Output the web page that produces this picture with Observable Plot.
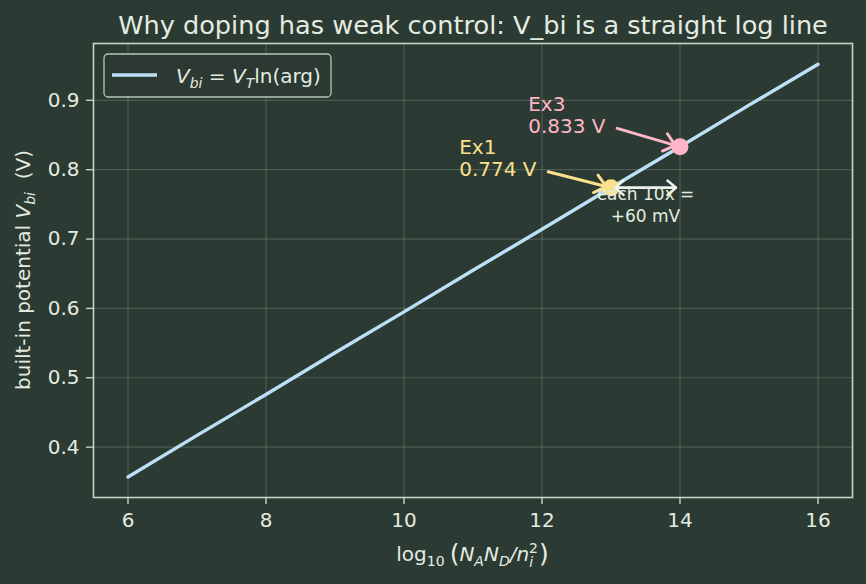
<!DOCTYPE html>
<html>
<head>
<meta charset="utf-8">
<script src="https://cdn.jsdelivr.net/npm/d3@7"></script>
<script src="https://cdn.jsdelivr.net/npm/@observablehq/plot@0.6"></script>
<style>
  html, body { margin: 0; padding: 0; background: #2b3a33; }
  #chart svg { display: block; }
</style>
</head>
<body>
<div id="chart"></div>
<script>
// V_bi = V_T ln(N_A N_D / n_i^2) against log10 of the argument
const logArg = [6, 7, 8, 9, 10, 11, 12, 13, 14, 15, 16];
const vbi = [0.357, 0.417, 0.476, 0.536, 0.595, 0.655, 0.714, 0.774, 0.833, 0.893, 0.952];

// worked examples
const exNames = ["Ex1", "Ex3"];
const exLog = [13, 14];
const exV = [0.774, 0.833];

// where each example label sits and where its arrow starts (data units)
const exLabelX = [10.8, 11.8];
const exLabelY = [0.8176, 0.8783];
const exTailX = [12.09, 13.09];
const exTailY = [0.797, 0.8595];

// "each decade" note
const stepFrom = 13, stepTo = 14, stepV = 0.774;
const noteText = ["each 10x =\n+60 mV"];
const noteX = [13.5], noteY = [0.75];

const xTicks = [6, 8, 10, 12, 14, 16];
const yTicks = [0.4, 0.5, 0.6, 0.7, 0.8, 0.9];

const titleText = "Why doping has weak control: V_bi is a straight log line";

// styling
const BG = "#2b3a33";
const INK = "#e4ece1";
const SPINE = "#c6d5c6";
const LINE = "#bddff7";
const exColors = ["#fbe18c", "#ffb7c8"];
const FONT = "DejaVu Sans, sans-serif";

const curve = logArg.map((x, i) => ({x, v: vbi[i]}));
const examples = exNames.map((name, i) => ({
  name, x: exLog[i], v: exV[i], color: exColors[i],
  lx: exLabelX[i], ly: exLabelY[i], tx: exTailX[i], ty: exTailY[i],
  label: `${name}\n${exV[i].toFixed(3)} V`
}));

const M = {left: 93, right: 14, top: 43, bottom: 87};

const plot = Plot.plot({
  width: 866,
  height: 584,
  marginLeft: M.left, marginRight: M.right, marginTop: M.top, marginBottom: M.bottom,
  style: {background: BG, color: INK, fontFamily: FONT, fontSize: "20px", overflow: "visible"},
  x: {domain: [5.5, 16.5]},
  y: {domain: [0.3274, 0.9819]},
  color: {type: "identity"},
  marks: [
    Plot.ruleX(xTicks, {stroke: SPINE, strokeOpacity: 0.22, strokeWidth: 1.2}),
    Plot.ruleY(yTicks, {stroke: SPINE, strokeOpacity: 0.22, strokeWidth: 1.2}),
    Plot.axisX(xTicks, {tickSize: 7, tickPadding: 8, stroke: SPINE, fill: INK, fontSize: 20, label: null, strokeWidth: 1.4}),
    Plot.axisY(yTicks, {tickSize: 7, tickPadding: 7, stroke: SPINE, fill: INK, fontSize: 20, label: null, strokeWidth: 1.4, tickFormat: d => d.toFixed(1)}),
    Plot.line(curve, {x: "x", y: "v", stroke: LINE, strokeWidth: 3.4}),
    Plot.arrow(examples, {x1: "tx", y1: "ty", x2: "x", y2: "v", stroke: "color", strokeWidth: 3, headLength: 7, headAngle: 80, insetEnd: 5}),
    Plot.dot(examples, {x: "x", y: "v", fill: "color", r: 8.5}),
    Plot.arrow([{a: stepFrom, b: stepTo}], {x1: "a", x2: "b", y1: () => stepV, y2: () => stepV, stroke: "#eef3ec", strokeWidth: 2.4, headLength: 7, headAngle: 80, insetStart: 4, insetEnd: 4}),
    Plot.arrow([{a: stepTo, b: stepFrom}], {x1: "a", x2: "b", y1: () => stepV, y2: () => stepV, stroke: "#eef3ec", strokeWidth: 2.4, headLength: 7, headAngle: 80, insetStart: 4, insetEnd: 4}),
    Plot.text(examples, {x: "lx", y: "ly", text: "label", fill: "color", textAnchor: "start", lineAnchor: "middle", lineHeight: 1.1, fontSize: 20}),
    Plot.text(noteText, {x: noteX, y: noteY, text: d => d, fill: INK, textAnchor: "middle", lineAnchor: "middle", lineHeight: 1.3, fontSize: 17}),
    Plot.frame({stroke: SPINE, strokeWidth: 1.6}),
    Plot.text([titleText], {frameAnchor: "top", text: d => d, lineAnchor: "bottom", dy: -10, fontSize: 25.6, fill: INK})
  ]
});

document.getElementById("chart").appendChild(plot);

// rich-text labels (sub/superscripts, italics) drawn as SVG tspans
const svg = d3.select(plot);
function rich(g, parts, attrs) {
  const t = g.append("text").attr("font-family", FONT).attr("fill", INK).attr("text-anchor", "start");
  for (const [k, v] of Object.entries(attrs)) t.attr(k, v);
  let base = 0;
  for (const p of parts) {
    const s = t.append("tspan").text(p.t);
    if (p.it) s.attr("font-style", "italic");
    if (p.size) s.attr("font-size", p.size);
    const shift = p.shift || 0;
    if (shift !== base) { s.attr("dy", shift - base); base = shift; }
    if (p.dx) s.attr("dx", p.dx);
  }
  return t;
}

const frameCx = M.left + (866 - M.left - M.right) / 2;
const frameCy = M.top + (584 - M.top - M.bottom) / 2;

// x-axis label: log10(N_A N_D / n_i^2)
rich(svg.append("g"), [
  {t: "log"},
  {t: "10", size: 14, shift: 5},
  {t: "(", size: 25, shift: 1, dx: 5},
  {t: "N", it: true, shift: 0},
  {t: "A", it: true, size: 14, shift: 5},
  {t: "N", it: true, shift: 0},
  {t: "D", it: true, size: 14, shift: 5},
  {t: "/", it: true, shift: 0},
  {t: "n", it: true},
  {t: "i", it: true, size: 14, shift: 6},
  {t: "2", size: 14, shift: -8, dx: -4},
  {t: ")", size: 25, shift: 1, dx: 1}
], {x: frameCx, y: 561, "text-anchor": "middle", "font-size": 20});

// y-axis label
rich(svg.append("g"), [
  {t: "built-in potential "},
  {t: "V", it: true},
  {t: "bi", it: true, size: 14, shift: 5},
  {t: "  (V)", shift: 0}
], {transform: `translate(30,${frameCy}) rotate(-90)`, "text-anchor": "middle", "font-size": 20});

// legend
const lg = svg.append("g").attr("transform", `translate(${M.left + 11},${M.top + 11})`);
lg.append("rect").attr("width", 227).attr("height", 43).attr("rx", 4)
  .attr("fill", BG).attr("fill-opacity", 0.85).attr("stroke", SPINE).attr("stroke-opacity", 0.9).attr("stroke-width", 1.3);
lg.append("line").attr("x1", 8).attr("x2", 53).attr("y1", 21).attr("y2", 21)
  .attr("stroke", LINE).attr("stroke-width", 3.4);
rich(lg, [
  {t: "V", it: true},
  {t: "bi", it: true, size: 14, shift: 5},
  {t: " = ", shift: 0},
  {t: "V", it: true},
  {t: "T", it: true, size: 14, shift: 5},
  {t: "ln(arg)", shift: 0}
], {x: 72, y: 29, "font-size": 20});
</script>
</body>
</html>
